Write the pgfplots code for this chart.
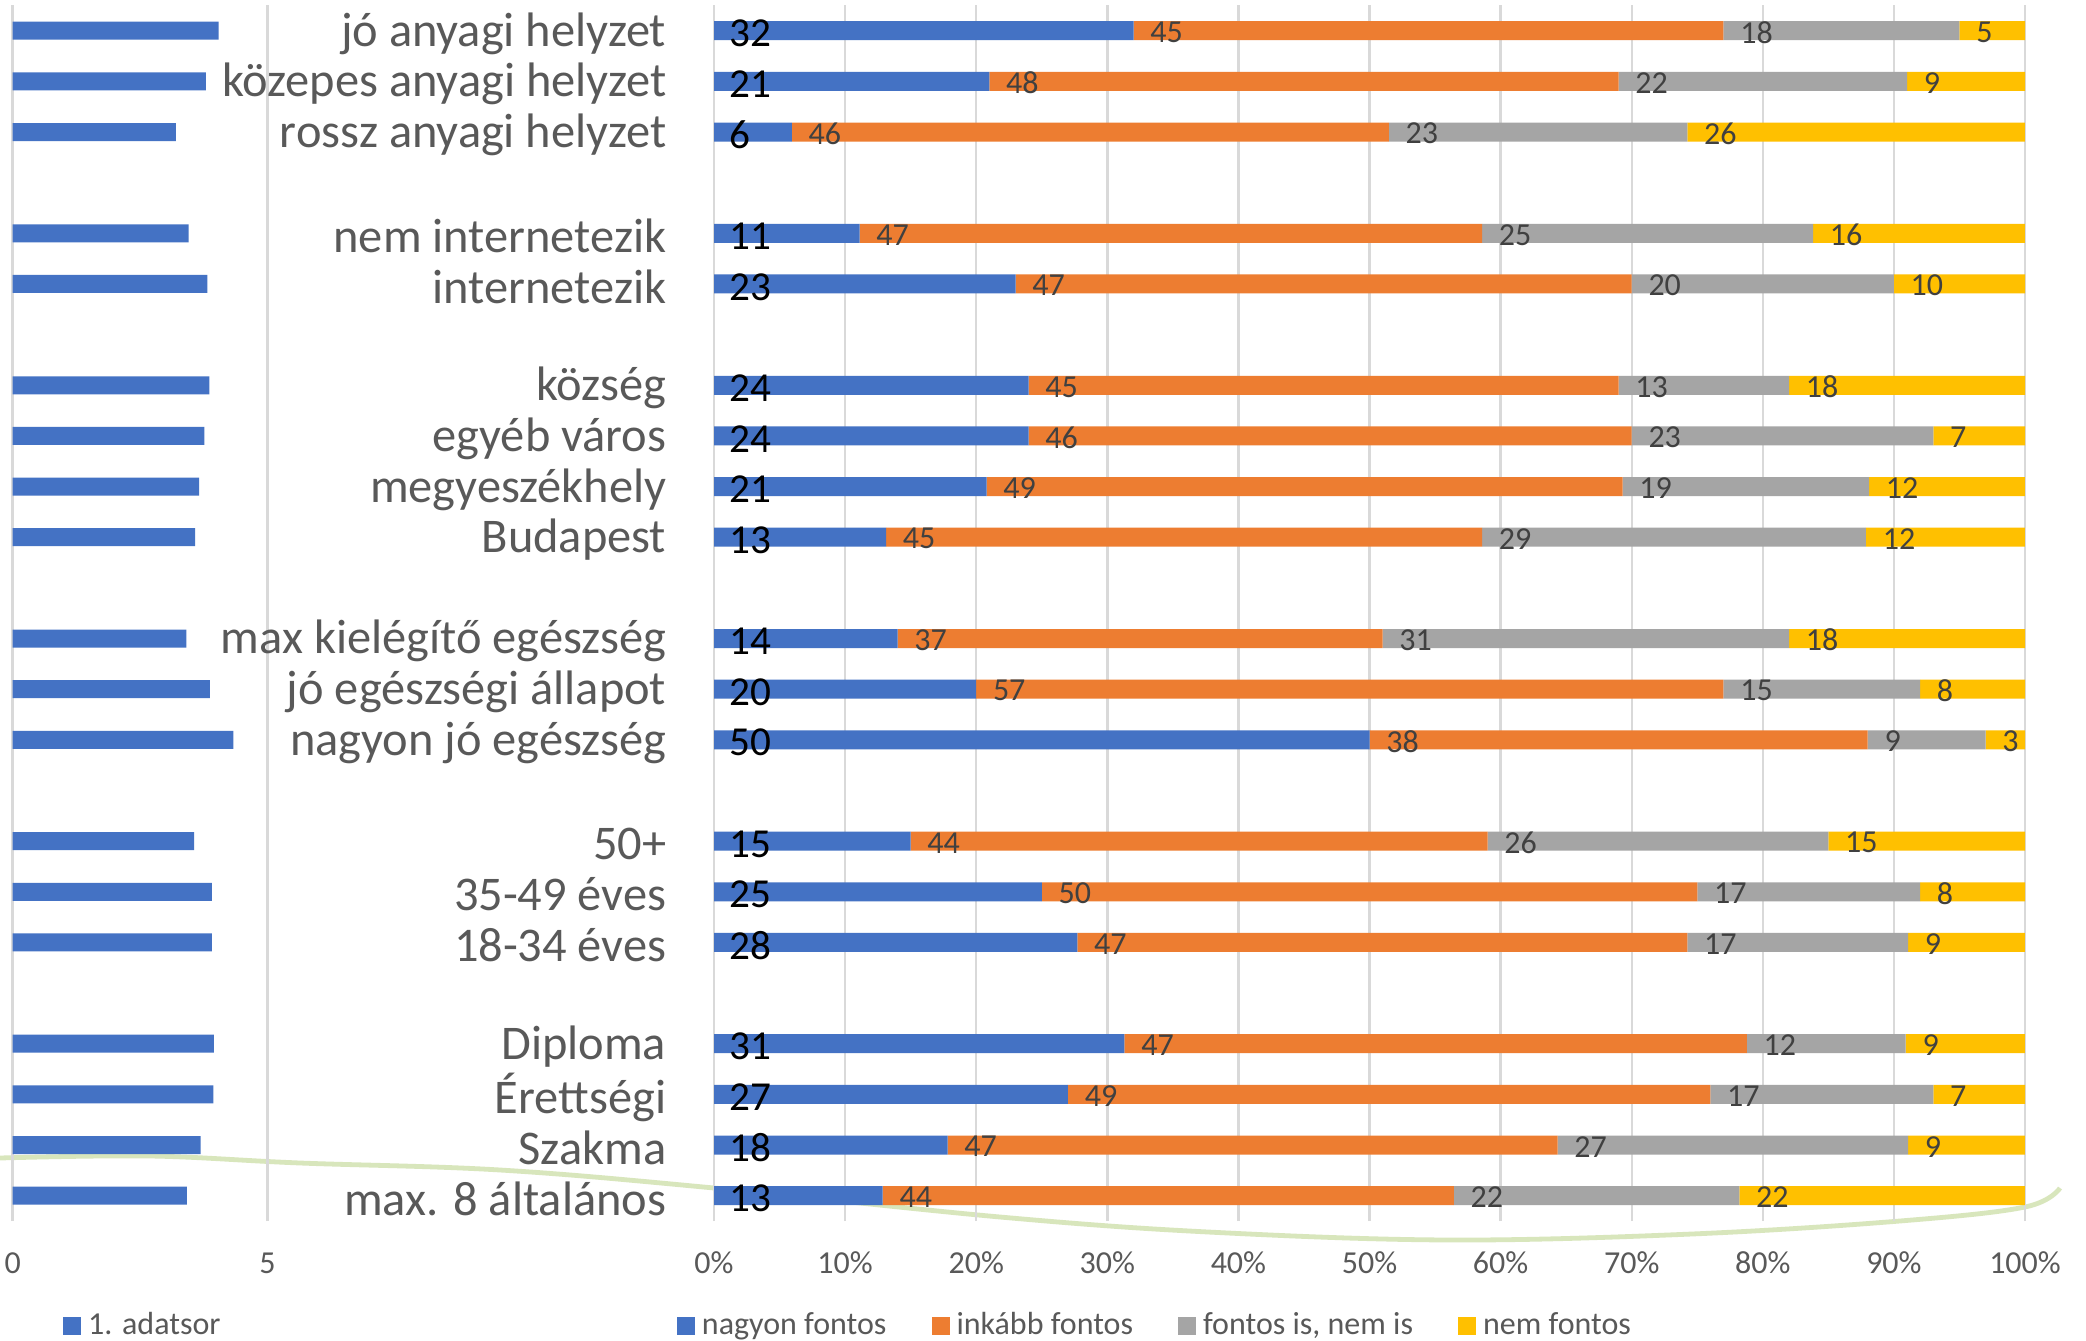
\documentclass[border=0pt]{standalone}
\usepackage{pgfplots}
\pgfplotsset{compat=1.18}
\usepackage{pgfplotstable}
\usepackage{fontspec}
\setmainfont{Carlito}
\definecolor{cblue}{HTML}{4472C4}
\definecolor{corange}{HTML}{ED7D31}
\definecolor{cgray}{HTML}{A5A5A5}
\definecolor{cyellow}{HTML}{FFC000}
\definecolor{cgrid}{HTML}{D9D9D9}
\definecolor{ctext}{HTML}{595959}
\definecolor{clab}{HTML}{404040}
\definecolor{cgreen}{RGB}{200,220,160}

% normalized shares (a,b,c,d), segment starts (sa..sd) and printed labels (la..ld)
\pgfplotstableread{
y a b c d sa sb sc sd la lb lc ld
23 32 45 18 5 0 32 77 95 32 45 18 5
22 21 48 22 9 0 21 69 91 21 48 22 9
21 5.94 45.54 22.77 25.74 0 5.94 51.48 74.25 6 46 23 26
19 11.11 47.47 25.25 16.16 0 11.11 58.58 83.83 11 47 25 16
18 23 47 20 10 0 23 70 90 23 47 20 10
16 24 45 13 18 0 24 69 82 24 45 13 18
15 24 46 23 7 0 24 70 93 24 46 23 7
14 20.79 48.51 18.81 11.88 0 20.79 69.30 88.11 21 49 19 12
13 13.13 45.45 29.29 12.12 0 13.13 58.58 87.87 13 45 29 12
11 14 37 31 18 0 14 51 82 14 37 31 18
10 20 57 15 8 0 20 77 92 20 57 15 8
9 50 38 9 3 0 50 88 97 50 38 9 3
7 15 44 26 15 0 15 59 85 15 44 26 15
6 25 50 17 8 0 25 75 92 25 50 17 8
5 27.72 46.53 16.83 8.91 0 27.72 74.25 91.08 28 47 17 9
3 31.31 47.47 12.12 9.09 0 31.31 78.78 90.90 31 47 12 9
2 27 49 17 7 0 27 76 93 27 49 17 7
1 17.82 46.53 26.73 8.91 0 17.82 64.35 91.08 18 47 27 9
0 12.87 43.56 21.78 21.78 0 12.87 56.43 78.21 13 44 22 22
}\rightdata

\pgfplotstableread{
y v
23 4.04
22 3.79
21 3.20
19 3.45
18 3.82
16 3.86
15 3.76
14 3.66
13 3.58
11 3.41
10 3.87
9 4.33
7 3.56
6 3.91
5 3.91
3 3.95
2 3.94
1 3.69
0 3.42
}\leftdata

\begin{document}
\begin{tikzpicture}
\path[use as bounding box] (0pt,0pt) rectangle (521.5pt,335pt);
\clip (0pt,0pt) rectangle (521.5pt,335pt);
\fill[white] (0pt,0pt) rectangle (521.5pt,335pt);
% decorative background curve
\begin{scope}[x=0.25pt, y=-0.25pt, shift={(0pt,335pt)}]
\draw[cgreen, line width=1.2pt, opacity=0.7] plot[smooth, tension=0.6] coordinates {(0,1158) (150,1156) (300,1163) (500,1170) (714,1188) (1000,1217) (1208,1232) (1450,1240) (1692,1234) (1900,1221) (2025,1207) (2060,1188)};
\end{scope}

% left chart
\begin{axis}[
  at={(3.175pt,29.75pt)}, anchor=south west,
  scale only axis, width=63.7pt, height=303.9pt,
  xmin=0, xmax=5, ymin=-0.5, ymax=23.5,
  xbar, bar width=4.5pt,
  axis line style={draw=none}, major tick length=0pt,
  xtick={0,5}, xticklabels={0,5},
  xmajorgrids, grid style={draw=cgrid, line width=0.6pt},
  ytick=\empty,
  xticklabel style={font=\fontsize{8}{9}\selectfont, text=ctext, anchor=center, yshift=-10.5pt},
  legend image code/.code={\fill[#1] (0pt,-2.25pt) rectangle (4.5pt,2.25pt);},
  legend style={at={(0.148,-0.0864)}, anchor=west, draw=none, fill=none,
    font=\fontsize{8}{9}\selectfont, text=ctext, nodes={inner sep=0pt},
    /tikz/every odd column/.append style={column sep=1.75pt}},
]
\addplot[fill=cblue, draw=none] table[x=v, y=y]{\leftdata};
\addlegendentry{1. adatsor}
\end{axis}

% right chart
\begin{axis}[
  at={(178.5pt,29.75pt)}, anchor=south west,
  scale only axis, width=327.75pt, height=303.9pt,
  xmin=0, xmax=100, ymin=-0.5, ymax=23.5,
  xbar stacked, bar width=4.75pt,
  axis line style={draw=none}, major tick length=0pt,
  xtick={0,10,...,100},
  xticklabels={0\%,10\%,20\%,30\%,40\%,50\%,60\%,70\%,80\%,90\%,100\%},
  xmajorgrids, grid style={draw=cgrid, line width=0.6pt},
  xticklabel style={font=\fontsize{8}{9}\selectfont, text=ctext, anchor=center, yshift=-10.5pt},
  ytick={0,1,2,3,5,6,7,9,10,11,13,14,15,16,18,19,21,22,23},
  yticklabels={max. 8 általános,Szakma,Érettségi,Diploma,18-34 éves,35-49 éves,50+,nagyon jó egészség,jó egészségi állapot,max kielégítő egészség,Budapest,megyeszékhely,egyéb város,község,internetezik,nem internetezik,rossz anyagi helyzet,közepes anyagi helyzet,jó anyagi helyzet},
  yticklabel style={font=\fontsize{12.1}{13}\selectfont, text=ctext, anchor=east, inner sep=0pt, xshift=-11.75pt, yshift=-0.7pt},
  legend image code/.code={\fill[#1] (0pt,-2.25pt) rectangle (4.5pt,2.25pt);},
  legend style={at={(-0.038,-0.0864)}, anchor=west, draw=none, fill=none,
    font=\fontsize{8}{9}\selectfont, text=ctext, nodes={inner sep=0pt},
    legend columns=4,
    /tikz/every odd column/.append style={column sep=1.75pt},
    /tikz/every even column/.append style={column sep=11.25pt}},
]
\addplot[fill=cblue, draw=none] table[x=a, y=y]{\rightdata};
\addlegendentry{nagyon fontos}
\addplot[fill=corange, draw=none] table[x=b, y=y]{\rightdata};
\addlegendentry{inkább fontos}
\addplot[fill=cgray, draw=none] table[x=c, y=y]{\rightdata};
\addlegendentry{fontos is, nem is}
\addplot[fill=cyellow, draw=none] table[x=d, y=y]{\rightdata};
\addlegendentry{nem fontos}
\end{axis}

% data labels, placed at the start of each segment
\begin{axis}[
  at={(178.5pt,29.75pt)}, anchor=south west,
  scale only axis, width=327.75pt, height=303.9pt,
  xmin=0, xmax=100, ymin=-0.5, ymax=23.5,
  hide axis, clip=false,
  point meta=explicit symbolic,
  nodes near coords,
]
\addplot[draw=none, mark=none,
  every node near coord/.style={anchor=west, inner sep=0pt, xshift=3.6pt, yshift=-0.7pt, font=\fontsize{10.3}{11}\selectfont, text=black}]
  table[x=sa, y=y, meta=la]{\rightdata};
\addplot[draw=none, mark=none,
  every node near coord/.style={anchor=west, inner sep=0pt, xshift=4pt, yshift=-0.4pt, font=\fontsize{8}{9}\selectfont, text=clab}]
  table[x=sb, y=y, meta=lb]{\rightdata};
\addplot[draw=none, mark=none,
  every node near coord/.style={anchor=west, inner sep=0pt, xshift=4pt, yshift=-0.4pt, font=\fontsize{8}{9}\selectfont, text=clab}]
  table[x=sc, y=y, meta=lc]{\rightdata};
\addplot[draw=none, mark=none,
  every node near coord/.style={anchor=west, inner sep=0pt, xshift=4pt, yshift=-0.4pt, font=\fontsize{8}{9}\selectfont, text=clab}]
  table[x=sd, y=y, meta=ld]{\rightdata};
\end{axis}
\end{tikzpicture}
\end{document}
